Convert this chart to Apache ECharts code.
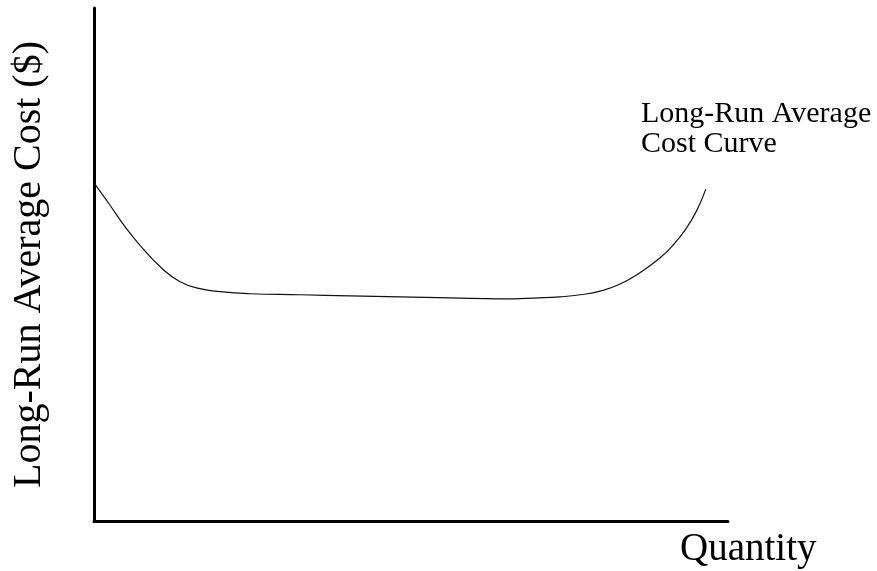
<!DOCTYPE html>
<html>
<head>
<meta charset="utf-8">
<script src="https://cdn.jsdelivr.net/npm/echarts@6/dist/echarts.min.js"></script>
<style>
  html, body { margin: 0; padding: 0; background: #fff; }
  #lrac_con { width: 877px; height: 571px; }
</style>
</head>
<body>
<div id="lrac_con"></div>
<script>
// quantity (0-100) and long-run average cost (0-100)
var quantity = [0, 2.5, 5.0, 7.5, 10.5, 13.5, 16.7, 19.9, 24.6, 32.5, 40.4, 48.3, 56.2, 64.0, 70.3, 73.5, 76.7, 79.8, 83.0, 86.1, 89.3, 91.5, 93.5, 95.1, 96.5];
var avgCost = [65.9, 61.6, 57.2, 53.4, 49.5, 46.7, 45.3, 44.7, 44.3, 44.1, 43.9, 43.7, 43.5, 43.3, 43.5, 43.7, 44.1, 44.8, 46.2, 48.4, 51.3, 54.0, 57.2, 60.6, 64.7];

var xName = 'Quantity';
var yName = 'Long-Run Average Cost ($)';
var curveName = 'Long-Run Average\nCost Curve';

var chart = echarts.init(document.getElementById('lrac_con'));
var font = 'Liberation Serif, Times New Roman, serif';

var points = [];
for (var i = 0; i < quantity.length; i++) {
    points.push([quantity[i], avgCost[i]]);
}

var option = {
    animation: false,
    backgroundColor: '#fff',
    grid: {
        left: 94,
        right: 149,
        top: 8,
        bottom: 50
    },
    xAxis: {
        type: 'value',
        min: 0,
        max: 100,
        axisLine: { show: true, lineStyle: { color: '#000', width: 3 } },
        axisTick: { show: false },
        axisLabel: { show: false },
        splitLine: { show: false }
    },
    yAxis: {
        type: 'value',
        min: 0,
        max: 100,
        name: yName,
        nameLocation: 'middle',
        nameRotate: 90,
        nameGap: 45,
        nameTextStyle: { fontFamily: font, fontSize: 40, color: '#000' },
        axisLine: { show: true, lineStyle: { color: '#000', width: 3 } },
        axisTick: { show: false },
        axisLabel: { show: false },
        splitLine: { show: false }
    },
    graphic: [
        {
            type: 'text',
            left: 680,
            top: 530,
            style: { text: xName, font: '39px ' + font, fill: '#000' }
        },
        {
            type: 'text',
            left: 641,
            top: 99,
            style: { text: curveName, font: '30px ' + font, lineHeight: 30, fill: '#000' }
        }
    ],
    series: [
        {
            type: 'line',
            data: points,
            smooth: 0.5,
            symbol: 'none',
            lineStyle: { color: '#111', width: 1.2 }
        }
    ]
};

chart.setOption(option);
</script>
</body>
</html>
